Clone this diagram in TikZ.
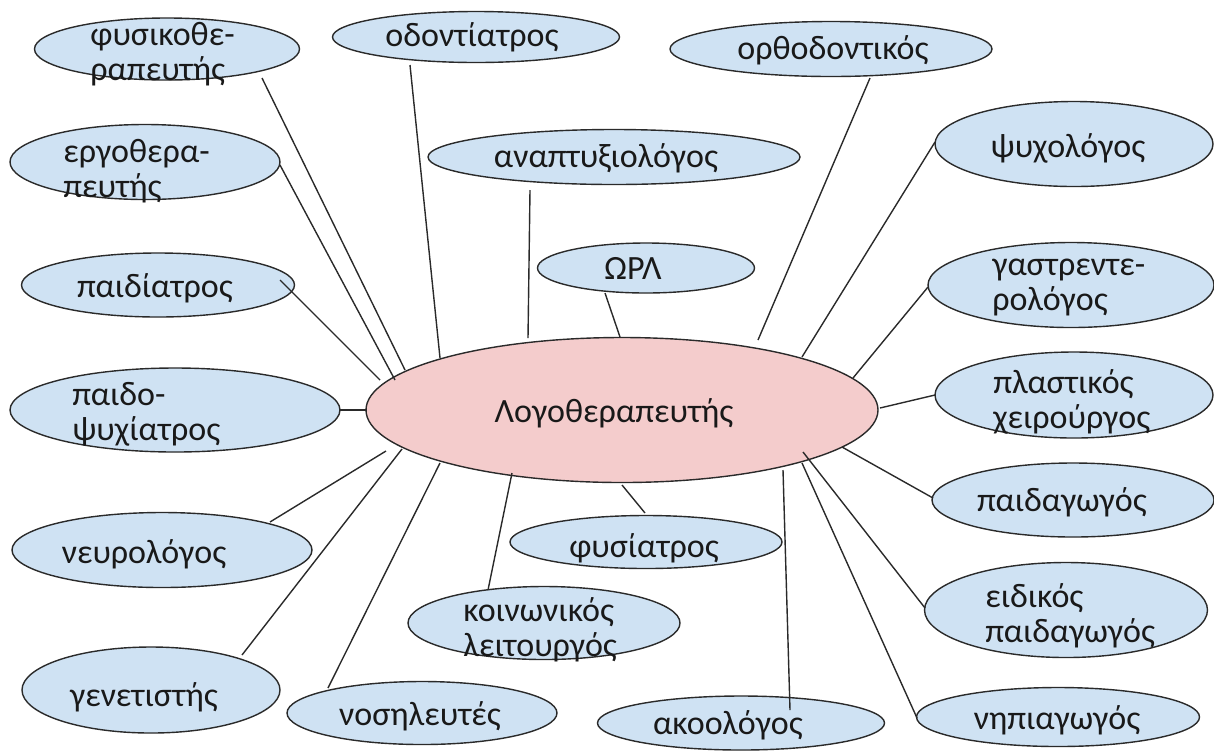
\documentclass[tikz,border=0pt]{standalone}
\usepackage{fontspec}
\setmainfont{Carlito}
\usetikzlibrary{shapes.geometric}
\definecolor{leafblue}{HTML}{CFE2F3}
\definecolor{centerpink}{HTML}{F4CCCC}
\definecolor{edgegray}{HTML}{2A2A2A}
\begin{document}
\begin{tikzpicture}[x=0.5pt,y=-0.5pt,
  oval/.style={ellipse,draw=edgegray,line width=0.7pt,inner sep=0pt,fill=leafblue},
  hub/.style={oval,fill=centerpink},
  lbl/.style={inner sep=0pt,text=black!90,font=\fontsize{17}{17.5}\selectfont},
  lbl2/.style={lbl,anchor=west,align=left},
  link/.style={draw=edgegray,line width=0.7pt}]
\useasboundingbox (0,0) rectangle (1214,751);
% ellipses
\node[hub,minimum width=256pt,minimum height=72.5pt] (c) at (622,410) {};
\node[oval,minimum width=132.5pt,minimum height=31pt] (fys) at (167,49) {};
\node[oval,minimum width=143.5pt,minimum height=25.5pt] (odont) at (476,37) {};
\node[oval,minimum width=161pt,minimum height=27.5pt] (orth) at (831,49) {};
\node[oval,minimum width=186pt,minimum height=27.5pt] (ana) at (614,157) {};
\node[oval,minimum width=139pt,minimum height=42.5pt] (psy) at (1074,144) {};
\node[oval,minimum width=135pt,minimum height=37.5pt] (ergo) at (145,162) {};
\node[oval,minimum width=108.5pt,minimum height=25pt] (orl) at (646,268) {};
\node[oval,minimum width=136.5pt,minimum height=32pt] (paid) at (158,285) {};
\node[oval,minimum width=143pt,minimum height=42.5pt] (gastr) at (1071,285) {};
\node[oval,minimum width=139pt,minimum height=43pt] (plast) at (1074,395) {};
\node[oval,minimum width=165pt,minimum height=42pt] (paidops) at (175,410) {};
\node[oval,minimum width=141pt,minimum height=37pt] (paidag) at (1073,500) {};
\node[oval,minimum width=150pt,minimum height=37.5pt] (neuro) at (162,550) {};
\node[oval,minimum width=136pt,minimum height=26.5pt] (fysiat) at (646,542) {};
\node[oval,minimum width=141.5pt,minimum height=47.5pt] (eidikos) at (1066,610) {};
\node[oval,minimum width=136pt,minimum height=36.5pt] (koinon) at (544,623) {};
\node[oval,minimum width=129pt,minimum height=43pt] (genet) at (151,690) {};
\node[oval,minimum width=135pt,minimum height=31.5pt] (nosil) at (422,713) {};
\node[oval,minimum width=143.5pt,minimum height=27pt] (akool) at (741,723) {};
\node[oval,minimum width=141.5pt,minimum height=29.5pt] (nipi) at (1058,717) {};
% texts
\node[lbl] (c-t) at (614,413) {Λογοθεραπευτής};
\node[lbl] (odont-t) at (472,37) {οδοντίατρος};
\node[lbl] (orth-t) at (833,50) {ορθοδοντικός};
\node[lbl] (ana-t) at (606,158) {αναπτυξιολόγος};
\node[lbl] (psy-t) at (1068,148) {ψυχολόγος};
\node[lbl] (orl-t) at (633,268) {ΩΡΛ};
\node[lbl] (paid-t) at (155,288) {παιδίατρος};
\node[lbl] (paidag-t) at (1062,502) {παιδαγωγός};
\node[lbl] (neuro-t) at (144,554) {νευρολόγος};
\node[lbl] (fysiat-t) at (644,548) {φυσίατρος};
\node[lbl] (genet-t) at (144,697) {γενετιστής};
\node[lbl] (nosil-t) at (420,716) {νοσηλευτές};
\node[lbl] (akool-t) at (728,725) {ακοολόγος};
\node[lbl] (nipi-t) at (1057,720) {νηπιαγωγός};
\node[lbl2] (fys-t) at (90,54) {φυσικοθε-\\ραπευτής};
\node[lbl2] (ergo-t) at (63,171) {εργοθερα-\\πευτής};
\node[lbl2] (gastr-t) at (992,287) {γαστρεντε-\\ρολόγος};
\node[lbl2] (plast-t) at (993,402) {πλαστικός\\χειρούργος};
\node[lbl2] (paidops-t) at (72,414) {παιδο-\\ψυχίατρος};
\node[lbl2] (eidikos-t) at (985,616) {ειδικός\\παιδαγωγός};
\node[lbl2] (koinon-t) at (463,630) {κοινωνικός\\λειτουργός};
% connector ends
\coordinate (fys-e) at (262,78);     \coordinate (c-fys) at (405,370);
\coordinate (ergo-e) at (280,165);   \coordinate (c-ergo) at (395,380);
\coordinate (paid-e) at (280,280);   \coordinate (c-paid) at (380,380);
\coordinate (paidops-e) at (340,410);\coordinate (c-paidops) at (367,410);
\coordinate (odont-e) at (410,65);   \coordinate (c-odont) at (440,358);
\coordinate (ana-e) at (530,190);    \coordinate (c-ana) at (528,338);
\coordinate (orl-e) at (605,293);    \coordinate (c-orl) at (620,337);
\coordinate (orth-e) at (870,78);    \coordinate (c-orth) at (758,340);
\coordinate (psy-e) at (935,142);    \coordinate (c-psy) at (802,357);
\coordinate (gastr-e) at (928,287);  \coordinate (c-gastr) at (853,378);
\coordinate (plast-e) at (935,395);  \coordinate (c-plast) at (880,408);
\coordinate (paidag-e) at (933,498); \coordinate (c-paidag) at (842,447);
\coordinate (eidikos-e) at (925,608);\coordinate (c-eidikos) at (803,452);
\coordinate (nipi-e) at (917,718);   \coordinate (c-nipi) at (802,463);
\coordinate (akool-e) at (790,710);  \coordinate (c-akool) at (783,470);
\coordinate (fysiat-e) at (645,513); \coordinate (c-fysiat) at (622,485);
\coordinate (koinon-e) at (488,590); \coordinate (c-koinon) at (512,473);
\coordinate (nosil-e) at (328,688);  \coordinate (c-nosil) at (440,463);
\coordinate (genet-e) at (242,655);  \coordinate (c-genet) at (402,449);
\coordinate (neuro-e) at (270,522);  \coordinate (c-neuro) at (386,451);
% connectors
\foreach \n in {fys,ergo,paid,paidops,odont,ana,orl,orth,psy,gastr,plast,paidag,eidikos,nipi,akool,fysiat,koinon,nosil,genet,neuro}
  \draw[link] (\n-e) -- (c-\n);
\end{tikzpicture}
\end{document}
